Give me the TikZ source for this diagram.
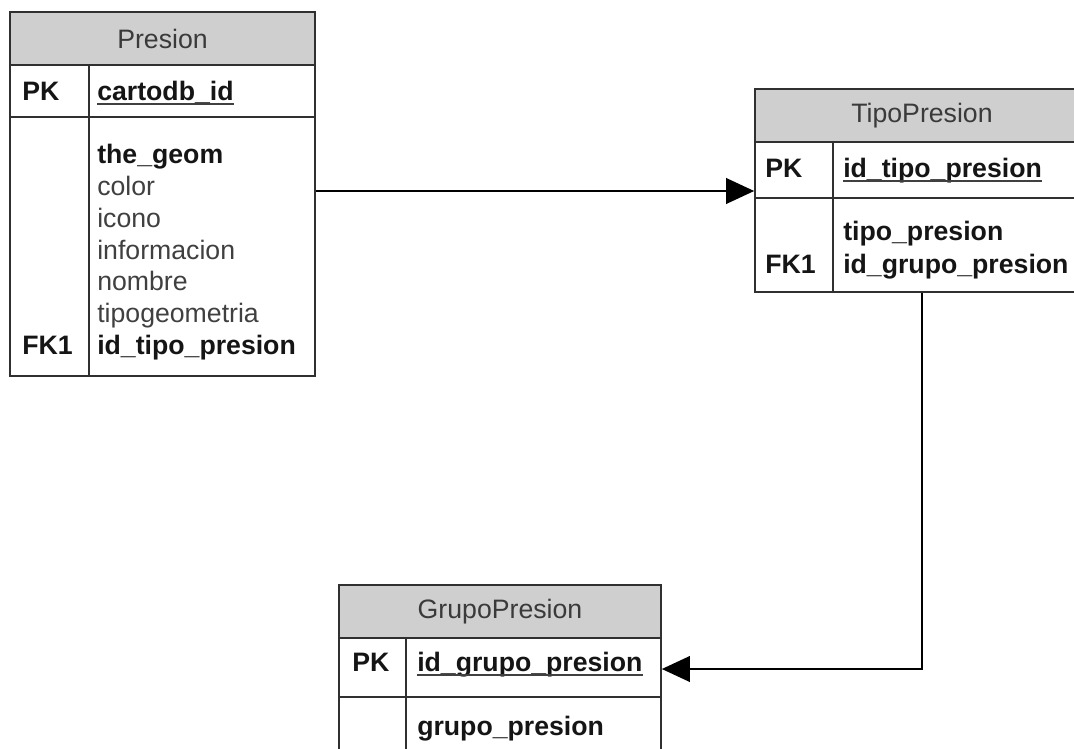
\documentclass[tikz,border=0pt]{standalone}
\usepackage{fontspec}
\setmainfont{Liberation Sans}
\usetikzlibrary{arrows.meta,fit}

\definecolor{hdrfill}{HTML}{CFCFCF}
\definecolor{rulecol}{HTML}{303030}
\definecolor{plaintxt}{HTML}{404040}
\definecolor{keytxt}{HTML}{151515}

\tikzset{
  cellbox/.style={draw=rulecol, line width=1.2pt, inner sep=0pt},
  hdrbox/.style={cellbox, fill=hdrfill},
  hdrtext/.style={inner sep=0pt, text=plaintxt!90!black, font=\fontsize{20}{24}\selectfont},
  keyfield/.style={inner sep=0pt, anchor=base west, text=keytxt, font=\fontsize{20}{24}\selectfont\bfseries},
  plainfield/.style={inner sep=0pt, anchor=base west, text=plaintxt, font=\fontsize{20}{24}\selectfont},
  uline/.style={draw=plaintxt, line width=1.1pt},
  divider/.style={draw=rulecol, line width=1.2pt},
  conn/.style={draw=black, line width=2pt, -{Triangle[length=21pt,width=19pt]}}
}

\begin{document}
\begin{tikzpicture}[x=0.75pt, y=-0.75pt]
  \clip (0,0) rectangle (1074,749);
  \fill[white] (0,0) rectangle (1074,749);

  % ---------- Presion ----------
  \node[hdrbox, fit={(10,12) (315,65)}] (presionH) {};
  \node[cellbox, fit={(10,65) (315,117)}] (presionPK) {};
  \node[cellbox, fit={(10,117) (315,376)}] (presion) {};
  \draw[divider] (89,65) -- (89,376);
  \node[hdrtext] (presionT) at (presionH.center) {Presion};
  \node[keyfield] (presionPKl) at (22,100) {PK};
  \node[keyfield] (presionId) at (97,100) {cartodb\_id};
  \draw[uline] ([yshift=-3pt]presionId.base west) -- ([yshift=-3pt]presionId.base east);
  \node[keyfield] (pGeom) at (97,163) {the\_geom};
  \node[plainfield] (pColor) at (97,195) {color};
  \node[plainfield] (pIcono) at (97,227) {icono};
  \node[plainfield] (pInfo) at (97,259) {informacion};
  \node[plainfield] (pNombre) at (97,290) {nombre};
  \node[plainfield] (pTipoGeo) at (97,322) {tipogeometria};
  \node[keyfield] (pFKl) at (22,354) {FK1};
  \node[keyfield] (pFK) at (97,354) {id\_tipo\_presion};

  % ---------- TipoPresion ----------
  \node[hdrbox, fit={(755,89) (1089,142)}] (tipoH) {};
  \node[cellbox, fit={(755,142) (1089,198)}] (tipoPK) {};
  \node[cellbox, fit={(755,198) (1089,292)}] (tipo) {};
  \draw[divider] (833,142) -- (833,292);
  \node[hdrtext] (tipoT) at (tipoH.center) {TipoPresion};
  \node[keyfield] (tipoPKl) at (765,177) {PK};
  \node[keyfield] (tipoId) at (843,177) {id\_tipo\_presion};
  \draw[uline] ([yshift=-3pt]tipoId.base west) -- ([yshift=-3pt]tipoId.base east);
  \node[keyfield] (tNombre) at (843,240) {tipo\_presion};
  \node[keyfield] (tFKl) at (765,273) {FK1};
  \node[keyfield] (tFK) at (843,273) {id\_grupo\_presion};

  % ---------- GrupoPresion ----------
  \node[hdrbox, fit={(339,585) (661,638)}] (grupoH) {};
  \node[cellbox, fit={(339,638) (661,697)}] (grupoPK) {};
  \node[cellbox, fit={(339,697) (661,800)}] (grupo) {};
  \draw[divider] (406,638) -- (406,800);
  \node[hdrtext] (grupoT) at (grupoH.center) {GrupoPresion};
  \node[keyfield] (grupoPKl) at (352,671) {PK};
  \node[keyfield] (grupoId) at (417,671) {id\_grupo\_presion};
  \draw[uline] ([yshift=-3pt]grupoId.base west) -- ([yshift=-3pt]grupoId.base east);
  \node[keyfield] (gNombre) at (417,735) {grupo\_presion};

  % ---------- relationships ----------
  \coordinate (rowA) at (0,191);
  \coordinate (rowB) at (0,669);
  \draw[conn] (presion.east |- rowA) -- (tipoPK.west |- rowA);
  \draw[conn] (tipo.south) -- (tipo.south |- rowB) -- (grupoPK.east |- rowB);
\end{tikzpicture}
\end{document}
